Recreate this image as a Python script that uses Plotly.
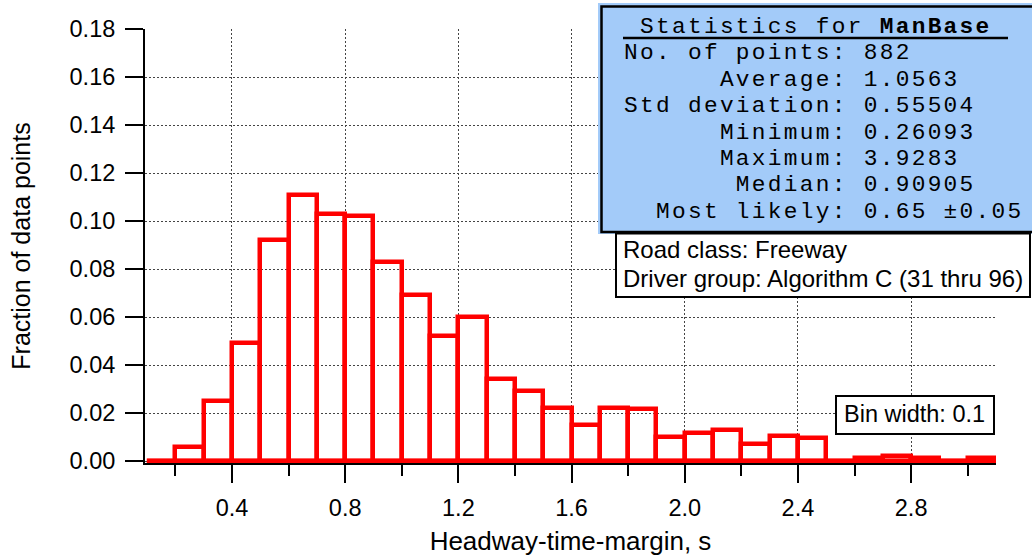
import plotly.graph_objects as go

# ---------------- data ----------------
bin_starts = [0.1, 0.2, 0.3, 0.4, 0.5, 0.6, 0.7, 0.8, 0.9, 1.0,
              1.1, 1.2, 1.3, 1.4, 1.5, 1.6, 1.7, 1.8, 1.9, 2.0,
              2.1, 2.2, 2.3, 2.4, 2.5, 2.6, 2.7, 2.8, 2.9, 3.0]
fractions = [0.000, 0.006, 0.025, 0.049, 0.092, 0.111, 0.103, 0.102, 0.083, 0.069,
             0.052, 0.060, 0.034, 0.029, 0.022, 0.015, 0.022, 0.0215, 0.010, 0.0115,
             0.013, 0.007, 0.0105, 0.0095, 0.000, 0.0012, 0.0023, 0.0011, 0.000, 0.0011]
bin_width = 0.1

stats_name = "ManBase"
stat_labels = ["No. of points:", "Average:", "Std deviation:", "Minimum:",
               "Maximum:", "Median:", "Most likely:"]
stat_values = ["882", "1.0563", "0.55504", "0.26093", "3.9283", "0.90905", "0.65 \u00b10.05"]
info_lines = ["Road class: Freeway", "Driver group: Algorithm C (31 thru 96)"]
bin_text = "Bin width: 0.1"

x_title = "Headway-time-margin, s"
y_title = "Fraction of data points"

# ---------------- layout geometry ----------------
W, H = 1032, 558
L, R, T, B = 145, 36, 29, 95
PW = W - L - R
PH = H - T - B


def px(x):
    return (x - L) / PW


def py(y):
    return (H - B - y) / PH


SANS = "Arial, Liberation Sans, sans-serif"
MONO = "Courier New, Liberation Mono, monospace"
NB = "\u00a0"

centers = [s + bin_width / 2 for s in bin_starts]

fig = go.Figure()
# baseline of the histogram (zero-height bins)
fig.add_trace(go.Scatter(
    x=[bin_starts[0], bin_starts[-1] + bin_width], y=[0, 0],
    mode="lines", line=dict(color="#ff0000", width=4.5), hoverinfo="skip",
    showlegend=False))
fig.add_trace(go.Bar(
    x=centers, y=fractions, width=bin_width,
    marker=dict(color="rgba(0,0,0,0)", line=dict(color="#ff0000", width=4.5)),
    showlegend=False))

grid = dict(showgrid=True, gridcolor="#444444", gridwidth=1, griddash="2px,2px")

fig.update_xaxes(
    range=[0.0926, 3.1], tickmode="linear", tick0=0.4, dtick=0.4, tickformat=".1f",
    ticks="outside", ticklen=18, tickwidth=2, tickcolor="black",
    showline=True, linecolor="black", linewidth=2, zeroline=False,
    tickfont=dict(family=SANS, size=23.5, color="black"), ticklabelstandoff=5,
    minor=dict(tick0=0, dtick=0.2, ticks="outside", ticklen=11, tickwidth=2,
               tickcolor="black", showgrid=False),
    title=dict(text=x_title, font=dict(family=SANS, size=26, color="black"), standoff=12),
    **grid)
fig.update_yaxes(
    range=[-0.0008, 0.18], tickmode="linear", tick0=0, dtick=0.02, tickformat=".2f",
    ticks="outside", ticklen=18, tickwidth=2, tickcolor="black",
    showline=True, linecolor="black", linewidth=2, zeroline=False,
    tickfont=dict(family=SANS, size=23.5, color="black"), ticklabelstandoff=5,
    title=dict(text=y_title, font=dict(family=SANS, size=25, color="black"), standoff=32),
    **grid)

shapes = [
    # statistics box
    dict(type="rect", xref="paper", yref="paper", x0=px(598), x1=px(1045),
         y0=py(234), y1=py(3), fillcolor="#a3cbf9", line=dict(width=0)),
    dict(type="rect", xref="paper", yref="paper", x0=px(601.5), x1=px(1045),
         y0=py(232), y1=py(6.5), fillcolor="rgba(0,0,0,0)",
         line=dict(color="black", width=2.5)),
    dict(type="line", xref="paper", yref="paper", x0=px(623), x1=px(1008),
         y0=py(38), y1=py(38), line=dict(color="black", width=2.5)),
    # info box
    dict(type="rect", xref="paper", yref="paper", x0=px(616), x1=px(1030),
         y0=py(297), y1=py(233.5), fillcolor="white",
         line=dict(color="black", width=2)),
    # bin width box
    dict(type="rect", xref="paper", yref="paper", x0=px(836), x1=px(994),
         y0=py(434), y1=py(396), fillcolor="white",
         line=dict(color="black", width=2)),
]

# statistics block: one monospace text, rows aligned on the colon
big = '<span style="font-size:22.8px;letter-spacing:2.3px">{}</span>'
stat_rows = [big.format(NB + "Statistics for <b>" + stats_name + "</b>")]
for lab, val in zip(stat_labels, stat_values):
    row = (lab.rjust(14) + " " + val).replace(" ", NB)
    stat_rows.append(big.format(row))

ann = []
ann.append(dict(text="<br>".join(stat_rows), x=px(622), y=py(119.5),
                xanchor="left", yanchor="middle", align="left",
                font=dict(family=MONO, size=20.3, color="black")))
for line, yy in zip(info_lines, [250, 278]):
    ann.append(dict(text=line, x=px(621), y=py(yy), xanchor="left", yanchor="middle",
                    font=dict(family=SANS, size=24, color="black")))
ann.append(dict(text=bin_text, x=px(914), y=py(414), xanchor="center", yanchor="middle",
                font=dict(family=SANS, size=23.5, color="black")))
for a in ann:
    a.update(xref="paper", yref="paper", showarrow=False)

fig.update_layout(
    width=W, height=H, margin=dict(l=L, r=R, t=T, b=B, autoexpand=False),
    paper_bgcolor="white", plot_bgcolor="white",
    shapes=shapes, annotations=ann, bargap=0, showlegend=False)

fig.write_html("out.html", config={"displayModeBar": False},
               post_script="document.body.style.margin='0';"
                           "document.body.style.overflow='hidden';")
